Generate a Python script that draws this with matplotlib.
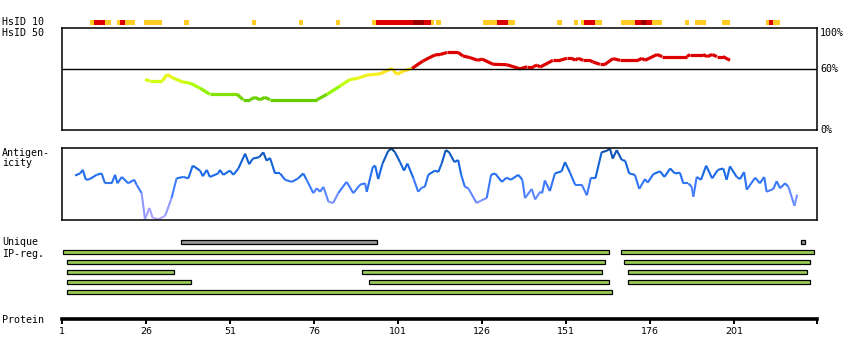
import matplotlib
matplotlib.use('Agg')
import matplotlib.pyplot as plt
from matplotlib.collections import LineCollection
from matplotlib.colors import LinearSegmentedColormap
import matplotlib.transforms as mtransforms
import numpy as np

plt.rcParams['font.family'] = ['DejaVu Sans Mono']

# ===== Data =====
PROT_END = 225.7                     # right end of the residue axis
tick_pos = [1, 26, 51, 76, 101, 126, 151, 176, 201]

# HsID 10 strip: start, end (residues), level 0=yellow 1=red 2=dark red
hs10_start = [9.3, 10.5, 13.8, 17.4, 18.3, 19.8, 25.4, 37.3, 57.6, 71.5, 82.6, 93.3,
              94.5, 105.5, 108.7, 110.8, 112.3, 126.3, 130.5, 133.7, 148.3, 153.4,
              155.5, 156.4, 159.6, 167.4, 171.5, 173.3, 174.8, 176.6, 186.4, 189.4,
              197.4, 210.5, 211.4, 212.6]
hs10_end = [10.5, 13.8, 15.6, 18.3, 19.8, 22.7, 30.8, 38.8, 58.7, 72.7, 83.7, 94.5,
            105.5, 108.7, 110.8, 111.7, 113.8, 130.5, 133.7, 135.8, 149.8, 154.6,
            156.4, 159.6, 161.7, 171.5, 173.3, 174.8, 176.6, 179.6, 187.6, 192.7,
            199.8, 211.4, 212.6, 214.7]
hs10_level = [0, 1, 0, 0, 1, 0, 0, 0, 0, 0, 0, 0,
              1, 2, 1, 0, 0, 0, 1, 0, 0, 0,
              0, 1, 0, 0, 1, 2, 1, 0, 0, 0,
              0, 0, 1, 0]

# HsID 50 identity (%)
hs50_res = [25.7, 27.2, 30.8, 32.3, 34.0, 37.0, 39.1, 42.1, 45.0, 53.1, 54.9, 57.0,
            58.4, 59.9, 61.4, 62.9, 76.9, 79.9, 83.7, 86.7, 88.8, 91.8, 95.6, 99.2,
            100.7, 102.5, 105.2, 108.4, 112.0, 113.5, 115.6, 118.9, 120.3, 122.4,
            124.8, 126.0, 129.3, 133.4, 137.3, 139.4, 141.2, 142.4, 143.3, 147.1,
            149.2, 151.3, 152.8, 153.7, 154.6, 156.1, 158.1, 159.0, 161.1, 162.6,
            165.0, 167.1, 172.4, 173.6, 174.5, 178.1, 179.6, 187.0, 187.9, 191.8,
            193.0, 194.5, 195.9, 197.7, 199.8]
hs50_val = [49.5, 48, 48, 54.5, 51, 47, 46, 41, 35, 35, 29.7, 29.7,
            32, 29.7, 32, 29.7, 29.7, 35, 43, 49.5, 50.5, 53.8, 55, 60.4,
            54.5, 57.7, 60.4, 67.6, 73.6, 74, 76, 76, 72.6, 71,
            68.3, 69.6, 64.4, 64, 60, 62, 62, 63.7, 61.7, 68.3,
            68.3, 70.3, 70.3, 68.3, 70.3, 68.3, 68.3, 66.7, 64.4, 64.4,
            70, 68.3, 68.3, 70.3, 68.3, 74, 72, 72, 74, 74,
            72, 74, 72, 72, 68.3]

# Antigenicity (relative, 0..1)
ag_res = [4.9, 6.4, 7.2, 8.1, 9.3, 11.3, 12.8, 13.8, 15.8, 16.8, 17.5, 18.8, 20.7,
          22.5, 23.2, 24.7, 25.7, 27.0, 28.0, 29.7, 31.7, 33.6, 35.1, 37.1, 38.6,
          39.9, 42.1, 42.9, 44.1, 45.0, 47.5, 48.0, 49.0, 51.0, 52.0, 53.5, 55.5,
          56.7, 57.8, 59.7, 60.9, 61.9, 62.9, 64.4, 65.9, 67.4, 69.4, 71.3, 72.8,
          73.8, 75.8, 76.8, 77.8, 78.8, 80.3, 81.7, 83.2, 85.7, 87.7, 89.7, 91.2,
          91.7, 93.5, 94.2, 95.1, 96.4, 98.1, 99.1, 100.1, 101.6, 102.8, 103.8,
          105.6, 107.0, 108.1, 109.0, 110.0, 112.0, 113.0, 114.0, 115.2, 116.2,
          117.8, 118.9, 119.8, 120.9, 121.9, 124.4, 125.9, 127.4, 128.7, 129.9,
          131.9, 133.3, 134.6, 136.8, 138.0, 138.8, 140.8, 141.8, 143.3, 143.9,
          144.7, 146.2, 147.7, 149.7, 150.7, 152.2, 153.7, 155.7, 157.2, 158.4,
          159.8, 161.6, 163.1, 164.1, 164.9, 166.1, 167.6, 168.6, 169.8, 171.5,
          172.8, 174.5, 175.3, 177.0, 179.0, 180.3, 182.0, 183.4, 184.9, 185.9,
          187.4, 188.4, 188.9, 189.9, 191.2, 192.7, 194.5, 196.2, 197.8, 198.8,
          199.8, 201.8, 202.8, 204.0, 204.8, 207.3, 208.7, 210.0, 210.7, 212.7,
          213.7, 214.7, 216.2, 217.2, 219.0, 219.8]
ag_val = [0.62, 0.65, 0.70, 0.56, 0.57, 0.63, 0.65, 0.51, 0.51, 0.63, 0.51, 0.60, 0.51,
          0.56, 0.49, 0.37, 0.00, 0.16, 0.02, 0.00, 0.05, 0.30, 0.58, 0.60, 0.58,
          0.76, 0.69, 0.61, 0.70, 0.60, 0.65, 0.70, 0.63, 0.69, 0.63, 0.72, 0.93,
          0.78, 0.86, 0.88, 0.95, 0.83, 0.87, 0.65, 0.65, 0.56, 0.53, 0.58, 0.65,
          0.56, 0.37, 0.44, 0.39, 0.46, 0.25, 0.23, 0.37, 0.53, 0.37, 0.49, 0.51,
          0.39, 0.74, 0.76, 0.57, 0.79, 0.97, 1.00, 0.95, 0.81, 0.69, 0.79,
          0.58, 0.39, 0.45, 0.46, 0.63, 0.69, 0.67, 0.79, 0.98, 0.95,
          0.81, 0.84, 0.63, 0.46, 0.44, 0.23, 0.27, 0.30, 0.63, 0.65,
          0.53, 0.59, 0.56, 0.63, 0.56, 0.30, 0.43, 0.28, 0.39, 0.37,
          0.55, 0.40, 0.65, 0.68, 0.81, 0.66, 0.49, 0.49, 0.34, 0.59,
          0.59, 0.95, 0.97, 1.00, 0.86, 0.98, 0.84, 0.83, 0.65, 0.63,
          0.43, 0.57, 0.52, 0.64, 0.68, 0.60, 0.72, 0.65, 0.66, 0.51,
          0.51, 0.46, 0.32, 0.60, 0.56, 0.76, 0.58, 0.70, 0.72, 0.56,
          0.75, 0.60, 0.57, 0.67, 0.42, 0.59, 0.51, 0.60, 0.39, 0.43,
          0.54, 0.44, 0.51, 0.46, 0.19, 0.35]

# Unique region (row 0) and IP-reg rows (1..5)
region_row = [0, 0, 1, 1, 2, 2, 3, 3, 3, 4, 4, 4, 5]
region_start = [36.5, 221.0, 1.4, 167.5, 2.6, 168.3, 2.6, 90.4, 169.5, 2.6, 92.5, 169.5, 2.6]
region_end = [94.7, 222.2, 163.7, 224.7, 162.5, 223.5, 34.4, 161.6, 222.6, 39.5, 163.7, 223.5, 164.6]
region_kind = ['unique', 'unique'] + ['ip'] * 11

# ===== Figure =====
W, H = 850, 360
fig = plt.figure(figsize=(W / 100, H / 100), dpi=100)


def px_axes(x0, y0, x1, y1):
    return fig.add_axes([x0 / W, 1 - y1 / H, (x1 - x0) / W, (y1 - y0) / H])


LEFT, RIGHT = 62, 817
label_kw = dict(fontsize=7.2, color='black', va='center', ha='left')

# --- HsID 10 strip ---
ax10 = px_axes(LEFT, 20, RIGHT, 25)
level_colors = ['#ffcc22', '#dd0000', '#990000']
for lvl in range(3):
    segs = [(s, e - s) for s, e, l in zip(hs10_start, hs10_end, hs10_level) if l == lvl]
    ax10.broken_barh(segs, (0, 1), facecolors=level_colors[lvl], linewidth=0)
ax10.set_xlim(1, PROT_END)
ax10.set_ylim(0, 1)
ax10.axis('off')
fig.text(2 / W, 1 - 22 / H, 'HsID 10', **label_kw)

# --- HsID 50 panel ---
ax50 = px_axes(LEFT, 28, RIGHT, 130)
hs_cmap = LinearSegmentedColormap.from_list('hs', [
    (0.0, '#66cc00'), (0.2, '#88e600'), (0.35, '#99ff00'), (0.6, '#ccff11'),
    (0.85, '#ffee22'), (1.0, '#ffdd22')])
pts = np.column_stack([hs50_res, hs50_val])
segs = np.stack([pts[:-1], pts[1:]], axis=1)
mid = (np.array(hs50_val[:-1]) + np.array(hs50_val[1:])) / 2
cols = [('#dd0000' if m >= 59.5 else hs_cmap(np.clip((m - 30) / 29.5, 0, 1))) for m in mid]
ax50.add_collection(LineCollection(segs, colors=cols, linewidths=2.3, capstyle='butt'))
ax50.axhline(60, color='black', lw=1.0)
ax50.set_xlim(1, PROT_END)
ax50.set_ylim(0, 100)
ax50.set_xticks([])
ax50.set_yticks([])
for sp in ax50.spines.values():
    sp.set_linewidth(1.1)
trans = mtransforms.blended_transform_factory(ax50.transAxes, ax50.transData)
ax50.text(1.004, 100, '100%', transform=trans, fontsize=7.2, va='top', ha='left')
ax50.text(1.004, 60, '60%', transform=trans, fontsize=7.2, va='center', ha='left')
ax50.text(1.004, 0, '0%', transform=trans, fontsize=7.2, va='center', ha='left')
fig.text(2 / W, 1 - 33 / H, 'HsID 50', **label_kw)

# --- Antigenicity panel ---
axA = px_axes(LEFT, 148, RIGHT, 220)
ag_cmap = LinearSegmentedColormap.from_list('ag', [
    (0.0, '#b8a8ff'), (0.25, '#7f93ff'), (0.45, '#3f7bff'), (0.65, '#1a6ae8'),
    (0.85, '#1060d0'), (1.0, '#0a4a9a')])
pts = np.column_stack([ag_res, ag_val])
segs = np.stack([pts[:-1], pts[1:]], axis=1)
mid = (np.array(ag_val[:-1]) + np.array(ag_val[1:])) / 2
axA.add_collection(LineCollection(segs, colors=ag_cmap(mid), linewidths=1.5))
axA.set_xlim(1, PROT_END)
axA.set_ylim(-0.01, 1.01)
axA.set_xticks([])
axA.set_yticks([])
for sp in axA.spines.values():
    sp.set_linewidth(1.1)
fig.text(2 / W, 1 - 153 / H, 'Antigen-', **label_kw)
fig.text(2 / W, 1 - 163 / H, 'icity', **label_kw)

# --- Unique / IP-reg bars ---
axR = px_axes(LEFT, 237.3, RIGHT, 297.3)
for row, s, e, kind in zip(region_row, region_start, region_end, region_kind):
    fc = '#999999' if kind == 'unique' else '#99cc55'
    axR.barh(row, e - s, left=s, height=0.42, color=fc, edgecolor='black', linewidth=0.9)
axR.set_xlim(1, PROT_END)
axR.set_ylim(5.5, -0.5)
axR.axis('off')
fig.text(2 / W, 1 - 242 / H, 'Unique', **label_kw)
fig.text(2 / W, 1 - 254 / H, 'IP-reg.', **label_kw)

# --- Protein axis ---
axP = px_axes(LEFT, 300, RIGHT, 319)
axP.set_xlim(1, PROT_END)
for name in ['top', 'left', 'right']:
    axP.spines[name].set_visible(False)
axP.spines['bottom'].set_linewidth(2.6)
axP.set_yticks([])
axP.set_xticks(tick_pos + [PROT_END])
axP.set_xticklabels([str(t) for t in tick_pos] + [''],
                    fontsize=6.8, family='DejaVu Sans')
axP.tick_params(axis='x', direction='out', length=3.5, width=1.4, pad=2.5)
axP.patch.set_alpha(0)
fig.text(2 / W, 1 - 320 / H, 'Protein', **label_kw)

fig.savefig('out.png', dpi=100)
print("Saved: out.png")
